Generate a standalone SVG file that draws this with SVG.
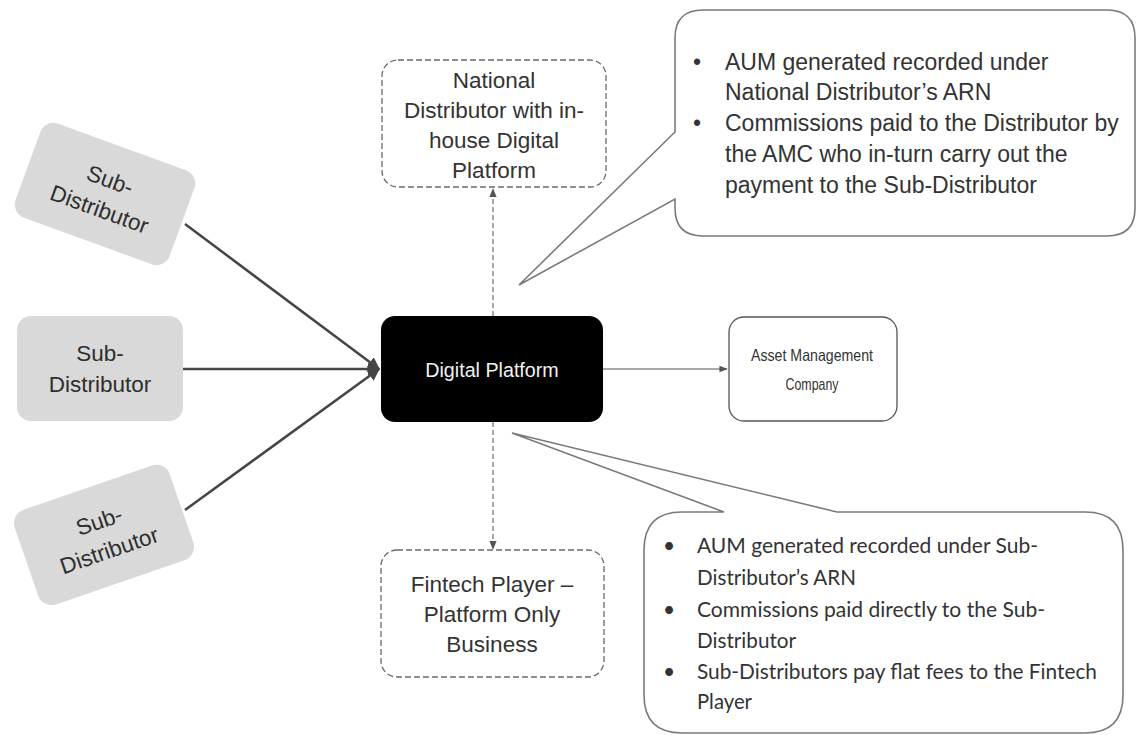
<svg xmlns="http://www.w3.org/2000/svg" width="1137" height="735" viewBox="0 0 1137 735">
<defs>
<style>
.sub rect{fill:#d9d9d9;stroke:none}
.sub text{font-family:"Liberation Sans",Arial,sans-serif;font-size:22.5px;fill:#2e2e2e;text-anchor:middle}
.dash{fill:#fff;stroke:#6a6a6a;stroke-width:1.3;stroke-dasharray:6 3}
.lbl{font-family:"Liberation Sans",Arial,sans-serif;font-size:22.5px;fill:#333;text-anchor:middle}
.call{fill:#fff;stroke:#7a7a7a;stroke-width:1.6}
.ct{font-family:"Liberation Sans",Arial,sans-serif;font-size:23px;fill:#333}
.cb{font-family:Lato,"Open Sans",sans-serif;font-size:21px;fill:#333}
.main{stroke:#454545;stroke-width:2.5;fill:none}
.thin{stroke:#555;stroke-width:1.2;fill:none}
.dl{stroke:#777;stroke-width:1.3;stroke-dasharray:5 3;fill:none}
</style>
<marker id="ah" viewBox="0 0 10 10" refX="9" refY="5" markerWidth="5" markerHeight="5" orient="auto" markerUnits="strokeWidth">
<path d="M0,0 L10,5 L0,10 z" fill="#454545"/>
</marker>
<marker id="as" viewBox="0 0 10 10" refX="9" refY="5" markerWidth="7" markerHeight="7" orient="auto" markerUnits="strokeWidth">
<path d="M0,1 L10,5 L0,9 z" fill="#555"/>
</marker>
</defs>
<rect width="1137" height="735" fill="#fff"/>

<g id="connectors">
<line class="main" x1="185" y1="224" x2="379" y2="369" marker-end="url(#ah)"/>
<line class="main" x1="183" y1="369" x2="379" y2="369" marker-end="url(#ah)"/>
<line class="main" x1="185" y1="510" x2="379" y2="369" marker-end="url(#ah)"/>
<line class="thin" x1="603" y1="369" x2="727" y2="369" marker-end="url(#as)"/>
<line class="dl" x1="493" y1="316" x2="493" y2="189" marker-end="url(#as)"/>
<line class="dl" x1="493" y1="422" x2="493" y2="549" marker-end="url(#as)"/>
</g>

<g id="sub1" class="sub" transform="translate(105,194) rotate(20)">
<rect x="-82" y="-50" width="164" height="100" rx="14"/>
<text x="0" y="-7">Sub-</text>
<text x="0" y="24">Distributor</text>
</g>
<g id="sub2" class="sub">
<rect x="17" y="316" width="166" height="105" rx="14"/>
<text x="100" y="361">Sub-</text>
<text x="100" y="392">Distributor</text>
</g>
<g id="sub3" class="sub" transform="translate(104,535) rotate(-19)">
<rect x="-82" y="-50" width="164" height="100" rx="14"/>
<text x="0" y="-7">Sub-</text>
<text x="0" y="24">Distributor</text>
</g>

<g id="digital-platform">
<rect x="381" y="316" width="222" height="106" rx="14" fill="#000"/>
<text x="492" y="377" font-family="Liberation Sans, Arial, sans-serif" font-size="19.7" fill="#f2f2f2" text-anchor="middle">Digital Platform</text>
</g>

<g id="national">
<rect class="dash" x="382" y="60" width="224" height="127" rx="16"/>
<text class="lbl" x="494" y="88">National</text>
<text class="lbl" x="494" y="118">Distributor with in-</text>
<text class="lbl" x="494" y="148">house Digital</text>
<text class="lbl" x="494" y="178">Platform</text>
</g>

<g id="fintech">
<rect class="dash" x="381" y="550" width="223" height="127" rx="16"/>
<text class="lbl" x="492" y="592">Fintech Player –</text>
<text class="lbl" x="492" y="622">Platform Only</text>
<text class="lbl" x="492" y="652">Business</text>
</g>

<g id="amc">
<rect x="729" y="317" width="168" height="104" rx="15" fill="#fff" stroke="#555" stroke-width="1.3"/>
<text x="812" y="361" font-family="Liberation Sans, Arial, sans-serif" font-size="16.5" fill="#333" text-anchor="middle" textLength="122" lengthAdjust="spacingAndGlyphs">Asset Management</text>
<text x="812" y="390" font-family="Liberation Sans, Arial, sans-serif" font-size="16.5" fill="#333" text-anchor="middle" textLength="53" lengthAdjust="spacingAndGlyphs">Company</text>
</g>

<g id="callout-top">
<path class="call" d="M703,10 H1107 Q1135,10 1135,38 V208 Q1135,236 1107,236 H703 Q675,236 675,208 V199 L519,285 L675,132 V38 Q675,10 703,10 Z"/>
<text class="ct" x="693" y="70">•</text>
<text class="ct" x="725" y="70">AUM generated recorded under</text>
<text class="ct" x="725" y="100">National Distributor’s ARN</text>
<text class="ct" x="693" y="131">•</text>
<text class="ct" x="725" y="131">Commissions paid to the Distributor by</text>
<text class="ct" x="725" y="162">the AMC who in-turn carry out the</text>
<text class="ct" x="725" y="193">payment to the Sub-Distributor</text>
</g>

<g id="callout-bottom">
<path class="call" d="M644,550 Q644,512 682,512 H724 L512,433 L837,512 H1085 Q1123,512 1123,550 V695 Q1123,733 1085,733 H682 Q644,733 644,695 Z"/>
<text class="cb" x="663" y="553">•</text>
<text class="cb" x="697" y="553" textLength="341" lengthAdjust="spacingAndGlyphs">AUM generated recorded under Sub-</text>
<text class="cb" x="697" y="585" textLength="159" lengthAdjust="spacingAndGlyphs">Distributor’s ARN</text>
<text class="cb" x="663" y="617">•</text>
<text class="cb" x="697" y="617" textLength="348" lengthAdjust="spacingAndGlyphs">Commissions paid directly to the Sub-</text>
<text class="cb" x="697" y="648" textLength="99" lengthAdjust="spacingAndGlyphs">Distributor</text>
<text class="cb" x="663" y="679">•</text>
<text class="cb" x="697" y="679" textLength="400" lengthAdjust="spacingAndGlyphs">Sub-Distributors pay flat fees to the Fintech</text>
<text class="cb" x="697" y="709" textLength="55" lengthAdjust="spacingAndGlyphs">Player</text>
</g>
</svg>
